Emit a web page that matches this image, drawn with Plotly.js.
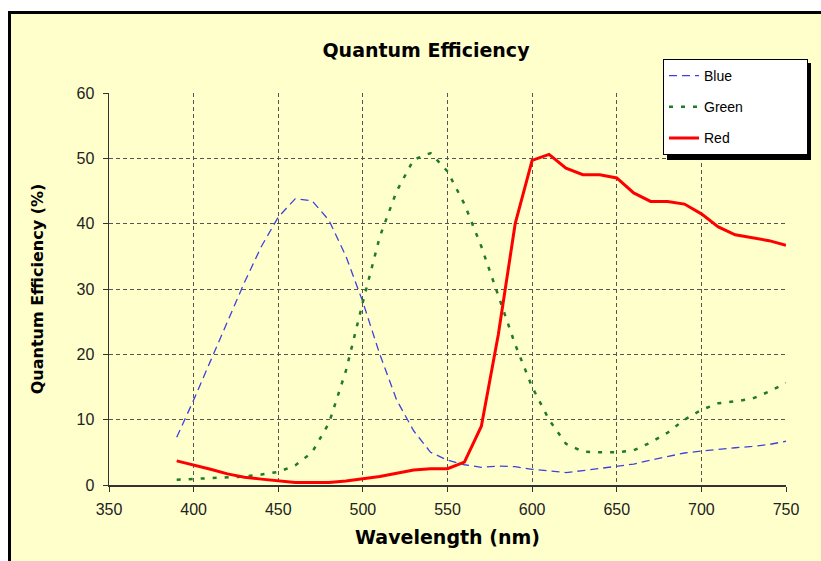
<!DOCTYPE html>
<html>
<head>
<meta charset="utf-8">
<script src="https://cdn.plot.ly/plotly-3.0.1.min.js"></script>
<style>html,body{margin:0;padding:0;background:#fff;}#chart{width:821px;height:561px;}</style>
</head>
<body>
<div id="chart"></div>
<script>
const wavelength = [390,400,410,420,430,440,450,460,470,480,490,500,510,520,530,540,550,560,570,580,590,600,610,620,630,640,650,660,670,680,690,700,710,720,730,740,750];
const blueQE  = [7.3,13,19,25,31,36.5,41,43.8,43.5,40.5,35,28,20,13,8.3,5,3.8,3.1,2.7,2.9,2.8,2.4,2.1,1.9,2.2,2.5,2.8,3.2,3.8,4.3,4.9,5.2,5.5,5.7,5.9,6.2,6.7];
const greenQE = [0.8,0.9,1.0,1.1,1.3,1.6,2,3,5,9.5,17.5,28,38,45,49.8,50.8,48,43,36.5,29,21.5,15,10,6.3,5.1,5,5,5.3,6.5,8,10,11.5,12.5,12.8,13.2,14.3,15.6];
const redQE   = [3.7,3.1,2.4,1.7,1.2,0.9,0.6,0.4,0.4,0.4,0.6,0.9,1.3,1.8,2.3,2.5,2.5,3.5,9,23,40,49.7,50.6,48.5,47.5,47.5,47,44.7,43.4,43.4,43,41.5,39.5,38.3,37.9,37.4,36.7];
const seriesNames = ["Blue","Green","Red"];
const xTicks = [350,400,450,500,550,600,650,700,750];
const yTicks = [0,10,20,30,40,50,60];

const pad = '\u00a0'.repeat(15);
const traces = [
  {x: wavelength, y: blueQE, name: seriesNames[0] + pad, type: 'scatter', mode: 'lines', legendgroup: 'a',
   line: {color: '#4040dd', width: 1.3, dash: '8px,5px'}},
  {x: wavelength, y: greenQE, name: seriesNames[1] + pad, type: 'scatter', mode: 'lines', legendgroup: 'b',
   line: {color: '#1f7a2a', width: 2.5, dash: '4px,8px'}},
  {x: wavelength, y: redQE, name: seriesNames[2] + pad, type: 'scatter', mode: 'lines', legendgroup: 'c',
   line: {color: '#ff0000', width: 3}}
];

const W = 677, H = 392;
function px(v){ return (v - 109) / W; }
function py(v){ return (485 - v) / H; }

const layout = {
  width: 821, height: 561,
  margin: {l: 109, r: 35, t: 93, b: 76, autoexpand: false},
  paper_bgcolor: '#ffffff',
  plot_bgcolor: '#ffffff',
  showlegend: true,
  title: {text: 'Quantum Efficiency', x: 426/821, xanchor: 'center', y: 1 - 50/561, yanchor: 'middle',
          font: {family: 'DejaVu Sans', size: 19, color: '#000', weight: 'bold'}},
  xaxis: {
    range: [350, 750], tickvals: xTicks, ticktext: xTicks.map(String),
    showgrid: true, gridcolor: '#555', griddash: '4px,3px', gridwidth: 1,
    showline: true, linecolor: '#333', linewidth: 1.5, zeroline: false,
    ticks: 'outside', ticklen: 5, tickcolor: '#333', ticklabelstandoff: 4,
    tickfont: {family: 'Liberation Sans', size: 16, color: '#222'},
    title: {text: 'Wavelength (nm)', standoff: 14, font: {family: 'DejaVu Sans', size: 19, color: '#000', weight: 'bold'}}
  },
  yaxis: {
    range: [0, 60], tickvals: yTicks, ticktext: yTicks.map(String),
    showgrid: true, gridcolor: '#555', griddash: '4px,3px', gridwidth: 1,
    showline: true, linecolor: '#333', linewidth: 1.5, zeroline: false,
    ticks: 'outside', ticklen: 5, tickcolor: '#333', ticklabelstandoff: 5,
    tickfont: {family: 'Liberation Sans', size: 16, color: '#222'},
    title: {text: 'Quantum Efficiency (%)', standoff: 29, font: {family: 'DejaVu Sans', size: 16, color: '#000', weight: 'bold'}}
  },
  legend: {
    x: px(663), y: py(59), xanchor: 'left', yanchor: 'top',
    bgcolor: '#ffffff', bordercolor: '#000', borderwidth: 1,
    font: {family: 'Liberation Sans', size: 14, color: '#000'},
    tracegroupgap: 10, traceorder: 'grouped'
  },
  shapes: [
    {type: 'rect', xref: 'paper', yref: 'paper', x0: px(9.5), x1: px(900), y0: py(620), y1: py(12.5),
     fillcolor: '#ffffcc', line: {width: 0}, layer: 'below'},
    {type: 'line', xref: 'paper', yref: 'paper', x0: px(9.5), x1: px(9.5), y0: py(620), y1: py(11),
     line: {color: '#000', width: 3}, layer: 'below'},
    {type: 'line', xref: 'paper', yref: 'paper', x0: px(8), x1: px(900), y0: py(12.5), y1: py(12.5),
     line: {color: '#000', width: 3}, layer: 'below'},
    {type: 'rect', xref: 'paper', yref: 'paper', x0: px(667), x1: px(811), y0: py(160), y1: py(63),
     fillcolor: '#000', line: {width: 0}, layer: 'above'}
  ]
};

Plotly.newPlot('chart', traces, layout, {displayModeBar: false, staticPlot: true});
</script>
</body>
</html>
